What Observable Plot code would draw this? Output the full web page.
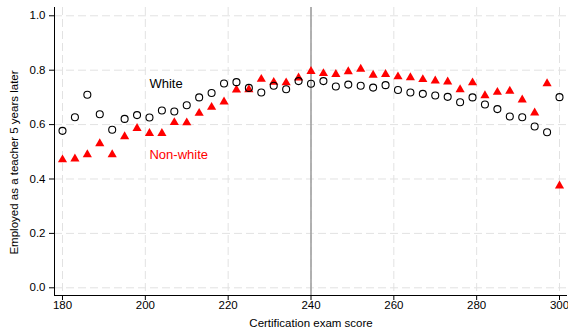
<!DOCTYPE html>
<html>
<head>
<meta charset="utf-8">
<script src="https://cdn.jsdelivr.net/npm/d3@7"></script>
<script src="https://cdn.jsdelivr.net/npm/@observablehq/plot@0.6"></script>
<style>
  html, body { margin: 0; padding: 0; background: white; }
</style>
</head>
<body>
<div id="chart"></div>
<script>
// Certification exam score bins
const scores = [180,183,186,189,192,195,198,201,204,207,210,213,216,219,222,225,228,231,234,237,240,243,246,249,252,255,258,261,264,267,270,273,276,279,282,285,288,291,294,297,300];
// Share employed as a teacher 5 years later
const white = [0.577,0.627,0.710,0.638,0.581,0.621,0.635,0.626,0.652,0.648,0.671,0.700,0.716,0.751,0.756,0.735,0.718,0.743,0.730,0.760,0.750,0.760,0.740,0.747,0.743,0.736,0.745,0.727,0.718,0.713,0.707,0.702,0.682,0.700,0.674,0.657,0.630,0.627,0.593,0.572,0.701];
const nonwhite = [0.471,0.474,0.490,0.530,0.490,0.556,0.586,0.568,0.568,0.608,0.607,0.642,0.664,0.684,0.728,0.729,0.767,0.756,0.754,0.772,0.796,0.788,0.785,0.795,0.804,0.782,0.785,0.776,0.773,0.766,0.761,0.757,0.729,0.754,0.707,0.719,0.723,0.691,0.643,0.751,0.375];
const xTicks = [180,200,220,240,260,280,300];
const yTicks = [0,0.2,0.4,0.6,0.8,1.0];
const cutoff = [240];
const seriesLabels = [
  {label: "White", x: 201, y: 0.751, color: "black"},
  {label: "Non-white", x: 201, y: 0.490, color: "red"}
];

const whiteData = scores.map((s, i) => ({score: s, share: white[i]}));
const nonwhiteData = scores.map((s, i) => ({score: s, share: nonwhite[i]}));

const xDomain = [178.07, 301.93];
const yDomain = [-0.0283, 1.0305];
const gridStyle = {stroke: "#e2e2e2", strokeOpacity: 1, strokeDasharray: "8,4"};

const chart = Plot.plot({
  width: 568,
  height: 332,
  marginTop: 7,
  marginRight: 1,
  marginBottom: 37,
  marginLeft: 54,
  style: {fontFamily: "'Liberation Sans', Arial, sans-serif", fontSize: "11.5px", background: "white", color: "black"},
  x: {domain: xDomain},
  y: {domain: yDomain},
  marks: [
    Plot.gridX(xTicks, gridStyle),
    Plot.gridY(yTicks, gridStyle),
    Plot.ruleX(cutoff, {stroke: "#9a9a9a", strokeWidth: 1.5}),
    Plot.ruleX([xDomain[0]], {stroke: "black", strokeWidth: 1}),
    Plot.ruleY([yDomain[0]], {stroke: "black", strokeWidth: 1}),
    Plot.axisX(xTicks, {tickSize: 5, tickPadding: 0, label: "Certification exam score", labelAnchor: "center", labelArrow: "none", labelOffset: 31, fontSize: 11.5}),
    Plot.axisY(yTicks, {tickSize: 5, tickPadding: 4, tickFormat: ".1f", label: null, fontSize: 11.5}),
    Plot.text(["Employed as a teacher 5 years later"], {frameAnchor: "left", textAnchor: "middle", rotate: -90, dx: -40, dy: 11, fontSize: 11.5, fill: "black"}),
    Plot.dot(nonwhiteData, {x: "score", y: "share", symbol: "triangle", fill: "red", r: 3.4}),
    Plot.dot(whiteData, {x: "score", y: "share", r: 3.5, stroke: "black", strokeWidth: 1.1, fill: "none"}),
    Plot.text(seriesLabels, {x: "x", y: "y", text: "label", fill: "color", textAnchor: "start", fontSize: 13})
  ]
});
document.getElementById("chart").appendChild(chart);
</script>
</body>
</html>
